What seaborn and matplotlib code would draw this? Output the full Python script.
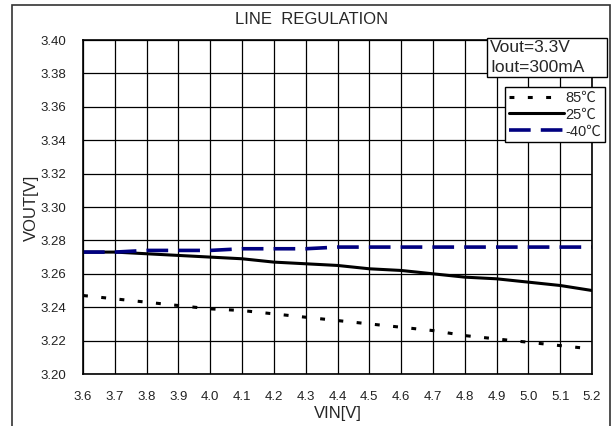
import matplotlib
matplotlib.use("Agg")
import matplotlib.pyplot as plt
import matplotlib.patches as mpatches
import seaborn as sns
import pandas as pd

vin = [3.6, 3.7, 3.8, 3.9, 4.0, 4.1, 4.2, 4.3, 4.4, 4.5, 4.6, 4.7, 4.8, 4.9, 5.0, 5.1, 5.2]
vout_85 = [3.247, 3.245, 3.243, 3.241, 3.239, 3.238, 3.236, 3.234, 3.232, 3.230, 3.228, 3.226, 3.223, 3.221, 3.219, 3.217, 3.215]
vout_25 = [3.273, 3.273, 3.272, 3.271, 3.270, 3.269, 3.267, 3.266, 3.265, 3.263, 3.262, 3.260, 3.258, 3.257, 3.255, 3.253, 3.250]
vout_m40 = [3.273, 3.273, 3.274, 3.274, 3.274, 3.275, 3.275, 3.275, 3.276, 3.276, 3.276, 3.276, 3.276, 3.276, 3.276, 3.276, 3.276]
series_labels = ["85℃", "25℃", "-40℃"]
xticks = [3.6, 3.7, 3.8, 3.9, 4.0, 4.1, 4.2, 4.3, 4.4, 4.5, 4.6, 4.7, 4.8, 4.9, 5.0, 5.1, 5.2]
yticks = [3.20, 3.22, 3.24, 3.26, 3.28, 3.30, 3.32, 3.34, 3.36, 3.38, 3.40]

sns.set_theme(style="white")
plt.rcParams['font.family'] = ['Liberation Sans', 'Noto Sans CJK JP', 'DejaVu Sans']

fig = plt.figure(figsize=(6.13, 4.26), dpi=100)
ax = fig.add_axes([83/613, 1-374/426, (592-83)/613, (374-40)/426])

df = pd.DataFrame({"VIN": vin, "v85": vout_85, "v25": vout_25, "vm40": vout_m40})

sns.lineplot(data=df, x="VIN", y="v85", ax=ax, color="black", lw=2.2,
             linestyle=(0, (1.6, 4.4)), label=series_labels[0])
sns.lineplot(data=df, x="VIN", y="v25", ax=ax, color="black", lw=2.2,
             linestyle="-", label=series_labels[1])
sns.lineplot(data=df, x="VIN", y="vm40", ax=ax, color="#000080", lw=2.6,
             linestyle=(0, (6, 2.8)), label=series_labels[2])

ax.set_xlim(3.6, 5.2)
ax.set_ylim(3.20, 3.40)
ax.set_xticks(xticks)
ax.set_xticklabels([f"{v:.1f}" for v in xticks])
ax.set_yticks(yticks)
ax.set_yticklabels([f"{v:.2f}" for v in yticks])
ax.grid(True, color="black", lw=0.9)
ax.tick_params(axis="both", length=0, labelsize=9.5, colors="#222222")
ax.tick_params(axis="x", pad=12)
ax.tick_params(axis="y", pad=12)
for s in ax.spines.values():
    s.set_color("black")
    s.set_linewidth(1.2)

ax.set_xlabel("VIN[V]", fontsize=12, labelpad=0)
ax.set_ylabel("VOUT[V]", fontsize=12, labelpad=0)
ax.xaxis.set_label_coords((338-83)/509, -(406-374)/334)
ax.yaxis.set_label_coords(-(83-39)/509, (374-208)/334)

fig.text(312/613, 1-20/426, "LINE  REGULATION", ha="center", va="center", fontsize=12)

# annotation box (fixed frame) with condition text
box = mpatches.Rectangle((487/613, 1-77/426), (607-487)/613, (77-38)/426,
                         transform=fig.transFigure, fc="white", ec="black",
                         lw=1, zorder=5)
fig.patches.append(box)
fig.text(490/613, 1-48/426, "Vout=3.3V", ha="left", va="center",
         fontsize=12.5, zorder=6)
fig.text(490/613, 1-67/426, "Iout=300mA", ha="left", va="center",
         fontsize=12.5, zorder=6)

leg = ax.legend(loc="upper right", bbox_to_anchor=(605/613, 1-87/426),
                bbox_transform=fig.transFigure, frameon=True, fancybox=False,
                fontsize=10.5, handlelength=3.8, handletextpad=0.1,
                borderpad=0.25, labelspacing=0.2, borderaxespad=0)
leg.get_frame().set_edgecolor("black")
leg.get_frame().set_linewidth(1)
leg.get_frame().set_alpha(1)

frame = mpatches.Rectangle((12/613, -0.05), (610-12)/613, 1-5/426+0.05,
                           transform=fig.transFigure, fill=False, ec="#333333",
                           lw=1.2, clip_on=False)
fig.patches.append(frame)

fig.savefig("out.png", dpi=100)
